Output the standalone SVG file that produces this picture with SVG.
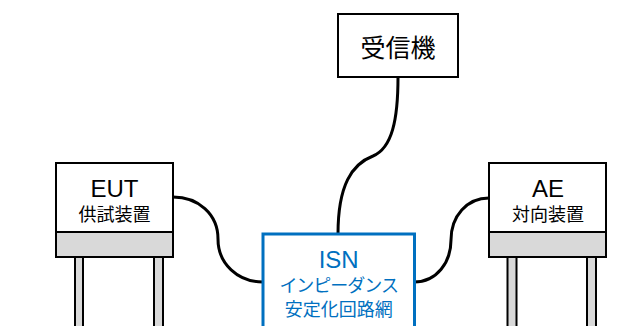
<svg xmlns="http://www.w3.org/2000/svg" width="621" height="326" viewBox="0 0 621 326">
<style>
.box{fill:#ffffff;stroke:#000000;stroke-width:2}
.bar{fill:#d9d9d9;stroke:#000000;stroke-width:2}
.cable{fill:none;stroke:#000000;stroke-width:3;stroke-linecap:butt}
.isn{fill:#ffffff;stroke:#0070c0;stroke-width:3}
text{font-family:"Liberation Sans","Noto Sans CJK JP",sans-serif;text-anchor:middle}
.big{font-size:24px;fill:#000000}
.rx{font-size:25px;fill:#000000}
.sub{font-size:18px;fill:#000000}
.bbig{font-size:24px;fill:#0070c0}
.bsub{font-size:18px;fill:#0070c0}
</style>
<rect width="621" height="326" fill="#ffffff"/>
<g id="connectors">
<path class="cable" d="M398,77 C398,120 392,148 373,156 C352,164 338,185 338,234"/>
<path class="cable" d="M173,197 C198,197 218,214 218,239 C218,264 238,282 263,282"/>
<path class="cable" d="M414,282 C437,282 451,262 451,240 C451,216 467,198 489,198"/>
</g>
<g id="receiver">
<rect class="box" x="338" y="14" width="120" height="63"/>
<text class="rx" x="398" y="57">受信機</text>
</g>
<g id="eut">
<rect class="bar" x="75" y="257" width="8" height="80"/>
<rect class="bar" x="154" y="257" width="9" height="80"/>
<rect class="bar" x="56" y="232" width="117" height="25"/>
<rect class="box" x="56" y="163" width="117" height="69"/>
<text class="big" x="114.5" y="197">EUT</text>
<text class="sub" x="114.5" y="221">供試装置</text>
</g>
<g id="ae">
<rect class="bar" x="507.5" y="257" width="9" height="80"/>
<rect class="bar" x="587" y="257" width="9" height="80"/>
<rect class="bar" x="489" y="232" width="117" height="25"/>
<rect class="box" x="489" y="163" width="117" height="69"/>
<text class="big" x="548" y="197">AE</text>
<text class="sub" x="548" y="221">対向装置</text>
</g>
<g id="isn">
<rect class="isn" x="263" y="234" width="151.5" height="110"/>
<text class="bbig" x="338.7" y="268">ISN</text>
<text class="bsub" x="338.7" y="292" letter-spacing="-1">インピーダンス</text>
<text class="bsub" x="338.7" y="316">安定化回路網</text>
</g>
</svg>
